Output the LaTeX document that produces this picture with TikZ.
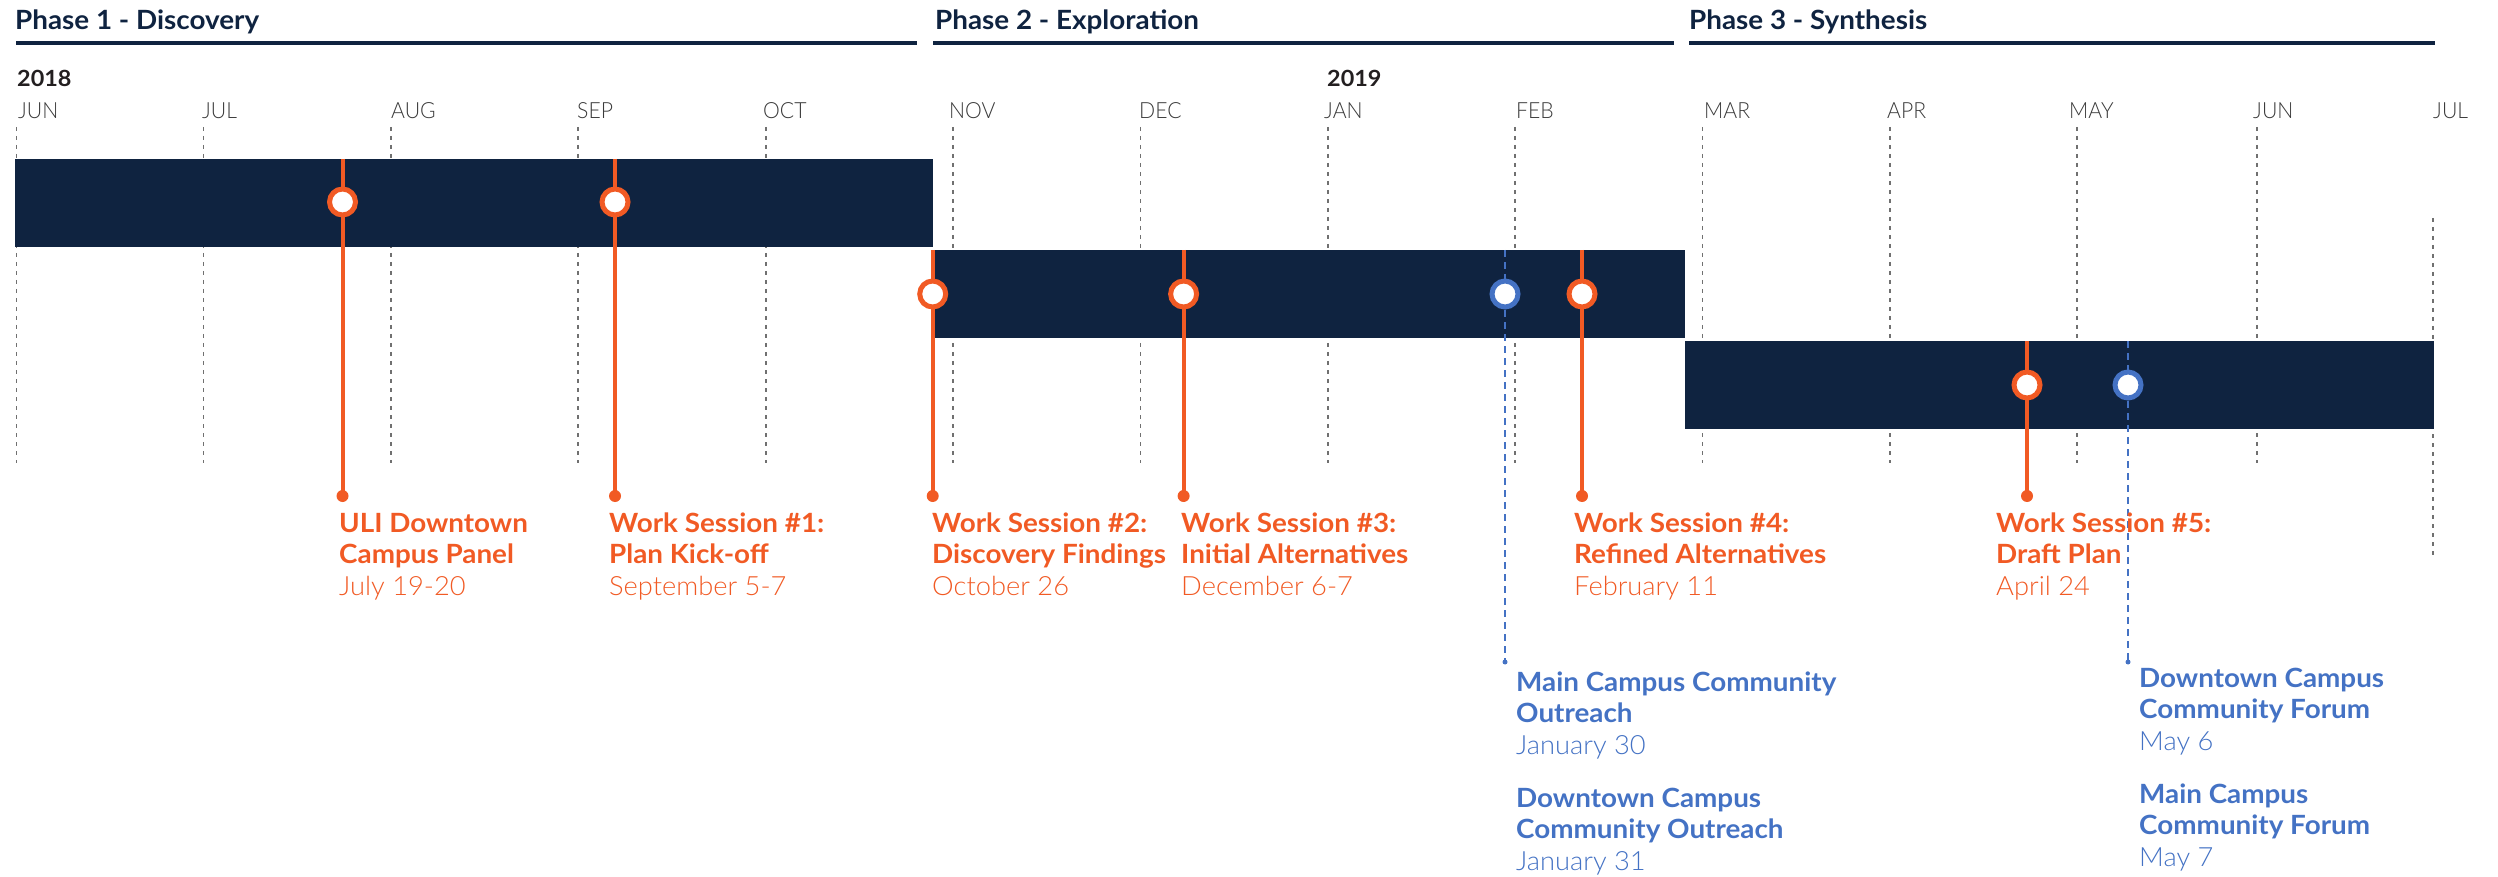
\documentclass[tikz,border=0pt]{standalone}
\usepackage{fontspec}
\setmainfont{Lato}[FakeStretch=1.05]
\newfontfamily\lightf{Lato Light}[FakeStretch=1.03]
\newfontfamily\monthf{Lato Light}[FakeStretch=0.95]
\definecolor{navy}{HTML}{0F2340}
\definecolor{orng}{HTML}{F15A24}
\definecolor{blu}{HTML}{4472C4}
\definecolor{gridc}{HTML}{707070}
\definecolor{mtxt}{HTML}{3A3A3A}
\definecolor{ytxt}{HTML}{231F20}
\tikzset{
  gridln/.style={draw=gridc, line width=1.4pt, dash pattern=on 4pt off 5pt},
  phaseln/.style={draw=navy, line width=3.5pt},
  phasebar/.style={fill=navy, draw=none, inner sep=0pt, anchor=north west},
  oline/.style={draw=orng, line width=4pt},
  bline/.style={draw=blu, line width=1.5pt, dash pattern=on 7pt off 5pt},
  omark/.style={circle, draw=orng, fill=white, line width=5pt, minimum size=26pt, inner sep=0pt},
  bmark/.style={circle, draw=blu, fill=white, line width=5pt, minimum size=26pt, inner sep=0pt},
  odot/.style={circle, fill=orng, minimum size=12pt, inner sep=0pt},
  bdot/.style={circle, fill=blu, minimum size=5pt, inner sep=0pt},
  phasettl/.style={anchor=base west, inner sep=0pt, text=navy, font=\bfseries\fontsize{26.5}{31.5}\selectfont},
  yearl/.style={anchor=base west, inner sep=0pt, text=ytxt, font=\bfseries\fontsize{22.3}{28}\selectfont},
  monthl/.style={anchor=base west, inner sep=0pt, text=mtxt, font=\monthf\fontsize{22.3}{26}\selectfont},
  olabel/.style={anchor=base west, inner sep=0pt, text=orng, align=left, font=\fontsize{26.5}{31.5}\selectfont},
  blabel/.style={anchor=base west, inner sep=0pt, text=blu, align=left, font=\fontsize{26.5}{31.5}\selectfont},
}
\begin{document}
\begin{tikzpicture}[x=1pt,y=-1pt]
\useasboundingbox (0,0) rectangle (2498,877);
% phase titles and rules
\node[phasettl] (p1) at (15,30) {Phase 1 - Discovery};
\node[phasettl] (p2) at (935,30) {Phase 2 - Exploration};
\node[phasettl] (p3) at (1689,30) {Phase 3 - Synthesis};
\coordinate (r1a) at (16,43); \coordinate (r1b) at (917,43);
\coordinate (r2a) at (933,43); \coordinate (r2b) at (1674,43);
\coordinate (r3a) at (1689,43); \coordinate (r3b) at (2435,43);
\draw[phaseln] (r1a) -- (r1b);
\draw[phaseln] (r2a) -- (r2b);
\draw[phaseln] (r3a) -- (r3b);
% years
\node[yearl] (y2018) at (17,86.7) {2018};
\node[yearl] (y2019) at (1327,86.7) {2019};
% months and grid
\foreach \gx/\lx/\nm [count=\i] in {16.6/18/JUN, 203.5/202/JUL, 391/391/AUG, 578/577/SEP, 766/763/OCT, 953/949/NOV, 1140.5/1139/DEC, 1328/1324/JAN, 1515/1516/FEB, 1702.5/1704/MAR, 1890/1887/APR, 2077/2069/MAY, 2257/2253/JUN}{
  \draw[gridln] (\gx,127) -- (\gx,463);
  \node[monthl] (mon\i) at (\lx,119) {\nm};
}
\draw[gridln] (2433,218) -- (2433,555);
\node[monthl] (mon14) at (2433,119) {JUL};
% bars
\node[phasebar, minimum width=918pt, minimum height=88pt] (bar1) at (15,159) {};
\node[phasebar, minimum width=751pt, minimum height=88pt] (bar2) at (934,250) {};
\node[phasebar, minimum width=749pt, minimum height=88pt] (bar3) at (1685,341) {};
% blue events
\coordinate (tb1) at (1505,250);
\node[bdot] (eb1) at (1505,662) {};
\draw[bline] (tb1) -- (eb1.center);
\node[bmark] (kb1) at (1505,294) {};
\coordinate (tb2) at (2128,341);
\node[bdot] (eb2) at (2128,662) {};
\draw[bline] (tb2) -- (eb2.center);
\node[bmark] (kb2) at (2128,385) {};
% orange events
\foreach \ex/\ty/\my [count=\i] in {342.5/159/202, 615/159/202, 932.7/250/294, 1183.6/250/294, 1582/250/294, 2027/341/385}{
  \coordinate (t\i) at (\ex,\ty);
  \node[odot] (e\i) at (\ex,496) {};
  \draw[oline] (t\i) -- (e\i.center);
  \node[omark] (k\i) at (\ex,\my) {};
}
% orange labels (anchor = baseline of last line)
\node[olabel] (l1) at (339,595) {\textbf{ULI Downtown}\\\textbf{Campus Panel}\\{\lightf July 19-20}};
\node[olabel] (l2) at (609,595) {\textbf{Work Session \#1:}\\\textbf{Plan Kick-off}\\{\lightf September 5-7}};
\node[olabel] (l3) at (932,595) {\textbf{Work Session \#2:}\\\textbf{Discovery Findings}\\{\lightf October 26}};
\node[olabel] (l4) at (1181,595) {\textbf{Work Session \#3:}\\\textbf{Initial Alternatives}\\{\lightf December 6-7}};
\node[olabel] (l5) at (1574,595) {\textbf{Work Session \#4:}\\\textbf{Refined Alternatives}\\{\lightf February 11}};
\node[olabel] (l6) at (1996,595) {\textbf{Work Session \#5:}\\\textbf{Draft Plan}\\{\lightf April 24}};
% blue labels
\node[blabel] (b1) at (1516,754) {\textbf{Main Campus Community}\\\textbf{Outreach}\\{\lightf January 30}};
\node[blabel] (b2) at (1516,870) {\textbf{Downtown Campus}\\\textbf{Community Outreach}\\{\lightf January 31}};
\node[blabel] (b3) at (2139,750) {\textbf{Downtown Campus}\\\textbf{Community Forum}\\{\lightf May 6}};
\node[blabel] (b4) at (2139,866) {\textbf{Main Campus}\\\textbf{Community Forum}\\{\lightf May 7}};
\end{tikzpicture}
\end{document}
